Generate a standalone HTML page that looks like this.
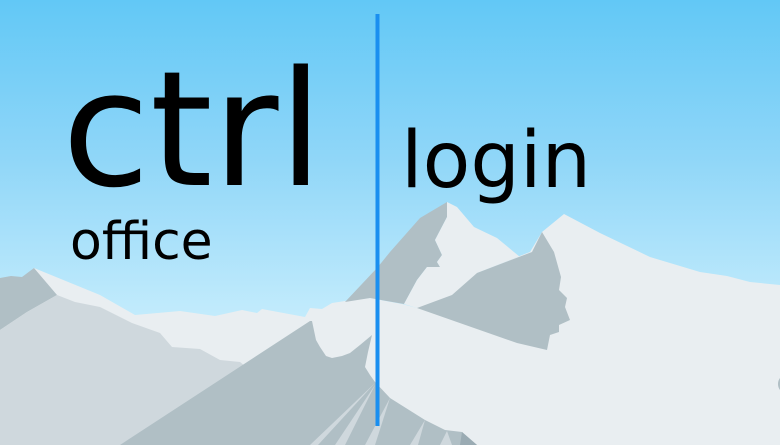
<!DOCTYPE html>
<html><head><meta charset="utf-8"><style>
html,body{margin:0;padding:0;width:780px;height:445px;overflow:hidden}
body{position:relative;background:linear-gradient(#62c8f6 0%,#8fd6f8 35%,#c4ecfc 72%,#d8f2fd 100%)}
svg{position:absolute;left:0;top:0}
.t{position:absolute;font-family:"DejaVu Sans","Liberation Sans",sans-serif;color:#000;line-height:1;white-space:nowrap}
</style></head><body>
<svg width="780" height="445" viewBox="0 0 780 445">
<polygon fill="#e9eef1" points="0,300 34,268 100,295 135,315 180,311 215,316 242,310 257,313 262,309 305,317 310,308 322,309 332,303 345,301 370,298 402,304 417,308 477,273 530,252 542,232 564,214 600,233 650,257 700,272 727,276 750,282 780,285 780,445 0,445"/>
<polygon fill="#b0bfc5" points="0,278 11,276 22,277 34,268 57,295 27,312 0,330"/>
<polygon fill="#cfd8dd" points="0,330 27,312 57,295 75,302 100,307 132,323 160,333 172,347 200,349 220,360 240,362 250,370 200,445 0,445"/>
<polygon fill="#b0bfc5" points="345,302 377,268 390,252 420,218 447,202 447,217 435,240 442,255 437,262 440,267 427,267 417,280 404,304 370,298"/>
<polygon fill="#e9eef1" points="447,202 457,207 474,227 497,238 520,257 530,252 477,273 452,295 417,308 404,304 417,280 427,267 440,267 437,262 442,255 435,240 447,217"/>
<polygon fill="#b0bfc5" points="542,232 532,252 477,273 452,295 417,308 517,343 547,350 550,335 559,332 559,325 570,320 565,307 567,298 559,290 561,277 554,252"/>
<polygon fill="#b0bfc5" points="310,321 312,321 316,340 320,347 326,356 332,358 342,356 350,353 360,345 372,335 368,352 365,367 370,375 375,382 390,398 425,420 445,430 462,432 477,445 120,445"/>
<polygon fill="#cfd8dd" points="375,383 310,445 318,445"/>
<polygon fill="#cfd8dd" points="375,385 335,445 345,445"/>
<polygon fill="#cfd8dd" points="390,398 365,445 375,445"/>
<polygon fill="#cfd8dd" points="425,420 410,445 418,445"/>
<polygon fill="#cfd8dd" points="447,431 440,445 452,445"/>
<polygon fill="#9aabb3" points="462,432 460,445 477,445"/>
<ellipse cx="786" cy="384" rx="8" ry="9" fill="#b0bfc5"/>
<rect x="375.5" y="14" width="4" height="412" fill="#1a8ff0"/>
</svg>
<div class="t" style="left:62px;top:50px;font-size:160px">ctrl</div>
<div class="t" style="left:70px;top:216px;font-size:52px">office</div>
<div class="t" style="left:401px;top:122px;font-size:78px">login</div>
</body></html>
